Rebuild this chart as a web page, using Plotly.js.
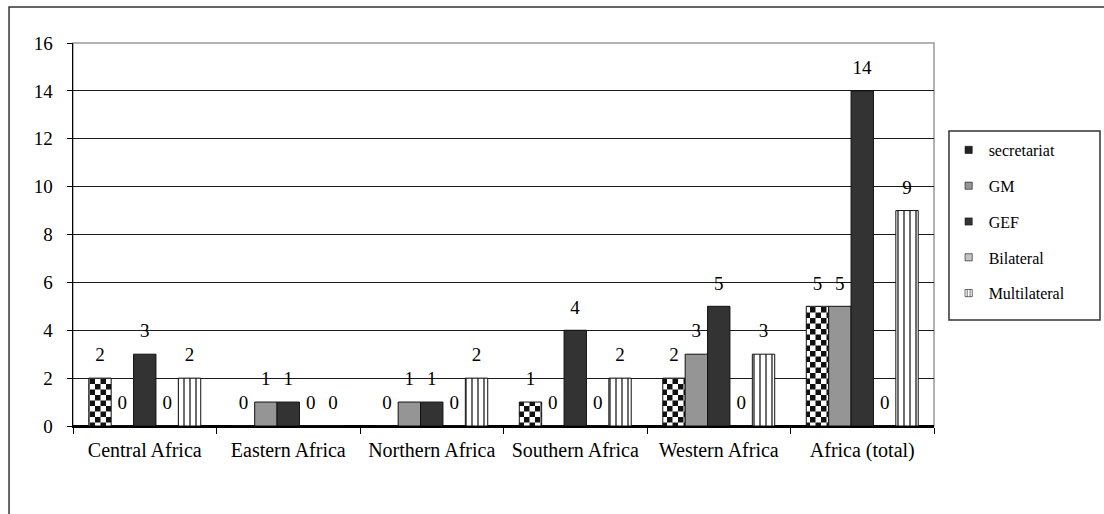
<!DOCTYPE html>
<html>
<head>
<meta charset="utf-8">
<script src="https://cdn.plot.ly/plotly-3.0.1.min.js"></script>
<style>
html,body{margin:0;padding:0;background:#fff;}
#chart{width:1104px;height:514px;}
</style>
</head>
<body>
<div id="chart"></div>
<script>
var categories = ['Central Africa','Eastern Africa','Northern Africa','Southern Africa','Western Africa','Africa (total)'];
var seriesNames = ['secretariat','GM','GEF','Bilateral','Multilateral'];
var secretariat = [2,0,0,1,2,5];
var gm = [0,1,1,0,3,5];
var gef = [3,1,1,4,5,14];
var bilateral = [0,0,0,0,0,0];
var multilateral = [2,0,2,2,3,9];
var yTicks = [0,2,4,6,8,10,12,14,16];

var serif = '"Liberation Serif", "Times New Roman", serif';
var values = [secretariat, gm, gef, bilateral, multilateral];
var fills = ['#ffffff', '#959595', '#333333', '#c4c4c4', '#ffffff'];

var traces = values.map(function(v, i){
  var m = {color: fills[i], line: {color: '#111', width: 1}};
  if (i === 4) {
    m.pattern = {shape: '|', size: 6, solidity: 0.22, fgcolor: '#222', bgcolor: '#ffffff', fillmode: 'replace'};
  }
  return {
    type: 'bar',
    name: seriesNames[i],
    legendgroup: 'g' + i,
    x: categories,
    y: v,
    marker: m,
    texttemplate: '<span style="font-size:19px">%{y}</span><br> ',
    textposition: 'outside',
    textangle: 0,
    constraintext: 'none',
    cliponaxis: false,
    textfont: {family: serif, size: 9, color: '#000'},
    hoverinfo: 'skip'
  };
});

var layout = {
  width: 1104, height: 514,
  margin: {l: 73, r: 170, t: 43, b: 88},
  paper_bgcolor: '#fff', plot_bgcolor: '#fff',
  barmode: 'group', bargap: 0.22, bargroupgap: 0,
  font: {family: serif, color: '#000'},
  showlegend: true,
  legend: {
    x: 1.017, xanchor: 'left', y: 0.765, yanchor: 'top',
    borderwidth: 0, bgcolor: 'rgba(0,0,0,0)',
    font: {family: serif, size: 16, color: '#000'},
    tracegroupgap: 12,
    itemwidth: 30
  },
  xaxis: {
    type: 'category',
    showline: true, linecolor: '#000', linewidth: 1.5,
    ticks: 'outside', tickson: 'boundaries', ticklen: 6, tickcolor: '#000',
    ticklabelstandoff: 5,
    tickfont: {family: serif, size: 20, color: '#000'},
    showgrid: false
  },
  yaxis: {
    range: [0, 16],
    tickvals: yTicks, ticktext: yTicks.map(String),
    showline: true, linecolor: '#000', linewidth: 1.5,
    ticks: 'outside', ticklen: 5, tickcolor: '#000',
    ticklabelstandoff: 10,
    tickfont: {family: serif, size: 19, color: '#000'},
    showgrid: true, gridcolor: '#1a1a1a', gridwidth: 1,
    zeroline: true, zerolinecolor: '#000', zerolinewidth: 1.5
  },
  shapes: [
    {type: 'rect', xref: 'paper', yref: 'paper', x0: 0, x1: 1, y0: 0, y1: 1,
     line: {color: '#9a9a9a', width: 1.5}, fillcolor: 'rgba(0,0,0,0)', layer: 'below'},
    {type: 'rect', xref: 'paper', yref: 'paper', x0: -0.0743, x1: 1.21, y0: -0.26, y1: 1.094,
     line: {color: '#333', width: 1.5}, fillcolor: 'rgba(0,0,0,0)'},
    {type: 'rect', xref: 'paper', yref: 'paper', x0: 1.0174, x1: 1.1928, y0: 0.277, y1: 0.770,
     line: {color: '#333', width: 1.5}, fillcolor: 'rgba(0,0,0,0)'}
  ]
};

var gd = document.getElementById('chart');

function applyChecker(){
  var svg = gd.querySelector('svg.main-svg');
  if (!svg) return;
  var defs = svg.querySelector('defs');
  if (!defs) { defs = document.createElementNS('http://www.w3.org/2000/svg','defs'); svg.insertBefore(defs, svg.firstChild); }
  if (!svg.querySelector('#checkerPat')) {
    var ns = 'http://www.w3.org/2000/svg';
    var p = document.createElementNS(ns, 'pattern');
    p.setAttribute('id', 'checkerPat');
    p.setAttribute('patternUnits', 'userSpaceOnUse');
    p.setAttribute('width', '11'); p.setAttribute('height', '11');
    var bg = document.createElementNS(ns, 'rect');
    bg.setAttribute('width','11'); bg.setAttribute('height','11'); bg.setAttribute('fill','#fff');
    var a = document.createElementNS(ns, 'rect');
    a.setAttribute('width','5.5'); a.setAttribute('height','5.5'); a.setAttribute('fill','#111');
    var b = document.createElementNS(ns, 'rect');
    b.setAttribute('x','5.5'); b.setAttribute('y','5.5');
    b.setAttribute('width','5.5'); b.setAttribute('height','5.5'); b.setAttribute('fill','#111');
    p.appendChild(bg); p.appendChild(a); p.appendChild(b);
    defs.appendChild(p);
  }
  var barTraces = gd.querySelectorAll('.barlayer .trace.bars');
  if (barTraces[0]) {
    barTraces[0].querySelectorAll('path').forEach(function(el){ el.style.fill = 'url(#checkerPat)'; });
  }
  var legTraces = gd.querySelectorAll('.legend .traces');
  legTraces.forEach(function(t, i){
    t.querySelectorAll('.legendpoints path').forEach(function(el){
      if (el.getAttribute('data-scaled')) return;
      if (i === 0) el.style.fill = '#222';
      var tr = el.getAttribute('transform') || '';
      el.setAttribute('transform', tr + ' scale(0.6)');
      el.setAttribute('data-scaled', '1');
    });
  });
}

Plotly.newPlot(gd, traces, layout, {displayModeBar: false, staticPlot: true}).then(function(){
  applyChecker();
  gd.on('plotly_afterplot', applyChecker);
});
</script>
</body>
</html>
